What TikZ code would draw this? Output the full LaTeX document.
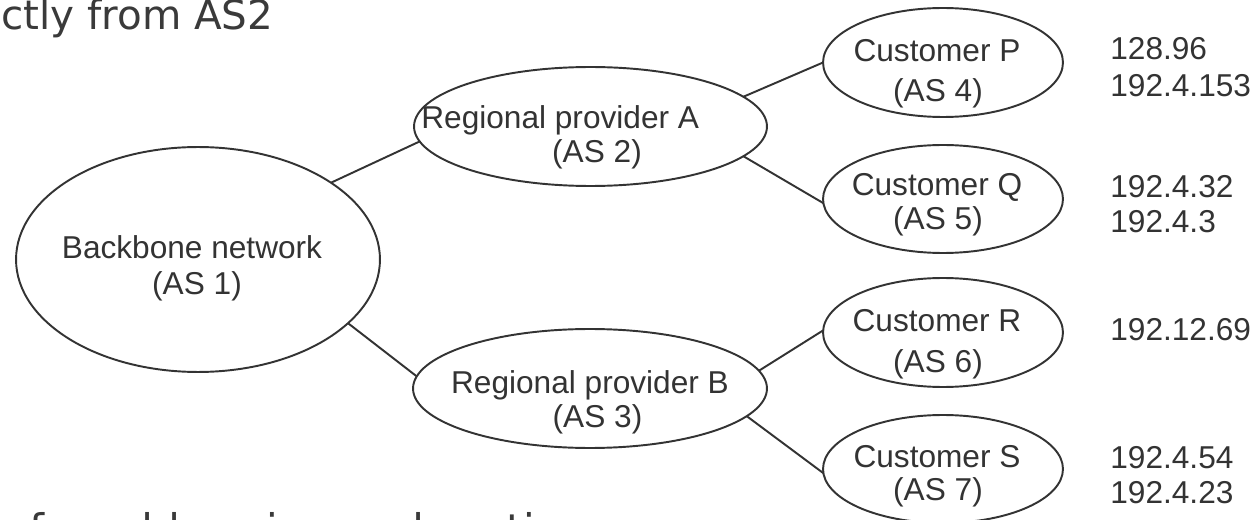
\documentclass[tikz,border=0pt]{standalone}
\usepackage{fontspec}
\setmainfont{Liberation Sans}
\newfontfamily\slidefont{DejaVu Sans}
\usetikzlibrary{shapes.geometric}
\definecolor{ink}{HTML}{333333}
\definecolor{slideink}{HTML}{3A3A3A}

\tikzset{
  asnode/.style={ellipse, draw=ink, line width=1.1pt, inner sep=0pt, outer sep=0pt},
  conn/.style={draw=ink, line width=1.1pt},
  lbl/.style={font=\fontsize{18}{21}\selectfont, text=ink, inner sep=0pt, anchor=base},
  lblw/.style={lbl, anchor=base west},
  slidetext/.style={font=\slidefont\fontsize{23}{27}\selectfont, text=slideink, inner sep=0pt, anchor=base west}
}

\begin{document}
\begin{tikzpicture}[x=0.02cm, y=-0.02cm]
  \fill[white] (0,0) rectangle (1258,520);
  \useasboundingbox (0,0) rectangle (1258,520);

  % surrounding slide text (runs past the page edges)
  \node[slidetext] (top) at (1,30) {ctly from AS2};
  \node[slidetext, font=\slidefont\fontsize{24}{28}\selectfont] (bottom) at (29,544) {for addressing and routing};

  % autonomous systems
  \node[asnode, minimum width=7.28cm, minimum height=4.5cm]  (bb) at (198,259.5) {};
  \node[asnode, minimum width=7.06cm, minimum height=2.38cm] (A)  at (590.5,126.5) {};
  \node[asnode, minimum width=7.08cm, minimum height=2.38cm] (B)  at (590,388.5) {};
  \node[asnode, minimum width=4.8cm,  minimum height=2.18cm] (P)  at (943,62.5) {};
  \node[asnode, minimum width=4.8cm,  minimum height=2.16cm] (Q)  at (943,199) {};
  \node[asnode, minimum width=4.8cm,  minimum height=2.18cm] (R)  at (943,332.5) {};
  \node[asnode, minimum width=4.8cm,  minimum height=2.16cm] (S)  at (943,469) {};

  % labels inside the ellipses
  \node[lbl]  (bb1) at (192,259) {Backbone network};
  \node[lbl]  (bb2) at (197,295) {(AS 1)};
  \node[lblw] (A1)  at (421,129) {Regional provider A};
  \node[lbl]  (A2)  at (597,163) {(AS 2)};
  \node[lbl]  (B1)  at (590,393) {Regional provider B};
  \node[lbl]  (B2)  at (597.5,427) {(AS 3)};
  \node[lbl]  (P1)  at (937,62) {Customer P};
  \node[lbl]  (P2)  at (938,102) {(AS 4)};
  \node[lbl]  (Q1)  at (937,196) {Customer Q};
  \node[lbl]  (Q2)  at (938,230) {(AS 5)};
  \node[lbl]  (R1)  at (937,332) {Customer R};
  \node[lbl]  (R2)  at (938,373) {(AS 6)};
  \node[lbl]  (S1)  at (937,467) {Customer S};
  \node[lbl]  (S2)  at (938,500) {(AS 7)};

  % address prefixes of the customers
  \node[lblw] (pP1) at (1110,60)  {128.96};
  \node[lblw] (pP2) at (1110,97)  {192.4.153};
  \node[lblw] (pQ1) at (1110,198) {192.4.32};
  \node[lblw] (pQ2) at (1110,233) {192.4.3};
  \node[lblw] (pR1) at (1110,340) {192.12.69};
  \node[lblw] (pS1) at (1110,468) {192.4.54};
  \node[lblw] (pS2) at (1110,503) {192.4.23};

  % links between the autonomous systems
  \draw[conn] (bb.30)    -- (A.185.4);
  \draw[conn] (bb.-23.7) -- (B.176.5);
  \draw[conn] (A.11)     -- (P.180);
  \draw[conn] (A.-11.7)  -- (Q.182);
  \draw[conn] (B.6.2)    -- (R.179);
  \draw[conn] (B.-10.3)  -- (S.182);
\end{tikzpicture}
\end{document}
